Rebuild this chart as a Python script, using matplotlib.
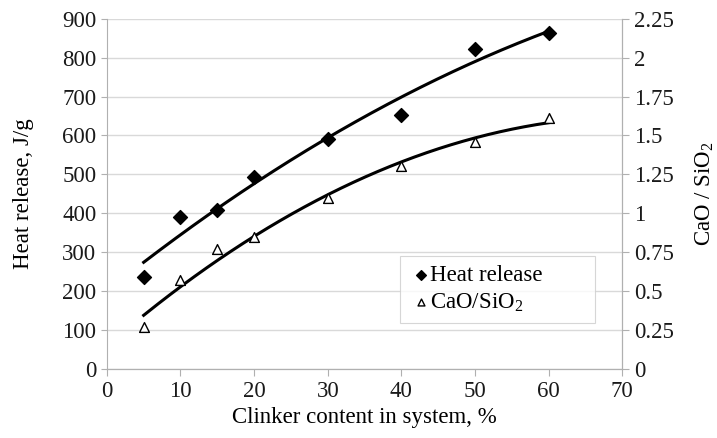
import numpy as np
import matplotlib
matplotlib.use("Agg")
import matplotlib.pyplot as plt

plt.rcParams['font.family'] = ['Liberation Serif', 'DejaVu Serif']
plt.rcParams['mathtext.fontset'] = 'custom'
plt.rcParams['mathtext.rm'] = 'Liberation Serif'
plt.rcParams['mathtext.it'] = 'Liberation Serif:italic'
plt.rcParams['mathtext.bf'] = 'Liberation Serif:bold'
plt.rcParams['mathtext.default'] = 'regular'

clinker = [5, 10, 15, 20, 30, 40, 50, 60]
heat_release = [236, 390, 408, 493, 591, 653, 823, 864]
cao_sio2 = [0.27, 0.57, 0.77, 0.85, 1.10, 1.305, 1.46, 1.61]

x_ticks = [0, 10, 20, 30, 40, 50, 60, 70]
y_left_ticks = [0, 100, 200, 300, 400, 500, 600, 700, 800, 900]
y_right_ticks = [0, 0.25, 0.5, 0.75, 1, 1.25, 1.5, 1.75, 2, 2.25]
y_right_labels = ['0', '0.25', '0.5', '0.75', '1', '1.25', '1.5', '1.75', '2', '2.25']

fig = plt.figure(figsize=(7.17, 4.38), dpi=100)
ax = fig.add_axes([0.149, 0.158, 0.719, 0.799])
ax2 = ax.twinx()

gray = '#b0b0b0'
ax.set_xlim(0, 70)
ax.set_ylim(0, 900)
ax2.set_ylim(0, 2.25)
ax.set_yticks(y_left_ticks)
ax.set_xticks(x_ticks)
ax2.set_yticks(y_right_ticks)
ax2.set_yticklabels(y_right_labels)
ax.yaxis.grid(True, color='#d9d9d9', linewidth=1.0)
ax.set_axisbelow(True)

fs = 16.5
for a in (ax, ax2):
    a.spines['top'].set_visible(False)
    for s in ('left', 'right', 'bottom'):
        a.spines[s].set_color(gray)
        a.spines[s].set_linewidth(0.8)
    a.tick_params(axis='both', colors=gray, labelcolor='#1a1a1a', labelsize=fs, length=5, width=0.8)
ax.tick_params(axis='y', length=4)
ax2.spines['left'].set_visible(False)

xs = np.linspace(5, 60, 200)
p1 = np.polyfit(clinker, heat_release, 2)
p2 = np.polyfit(clinker, cao_sio2, 2)
ax.plot(xs, np.polyval(p1, xs), color='black', lw=2.2, zorder=3)
ax2.plot(xs, np.polyval(p2, xs), color='black', lw=2.2, zorder=3)

h1 = ax.scatter(clinker, heat_release, marker='D', s=50, color='black', zorder=4, label='Heat release')
h2 = ax2.scatter(clinker, cao_sio2, marker='^', s=50, facecolors='white', edgecolors='black', linewidths=1.0, zorder=4, label='CaO/SiO$_2$')

ax.set_xlabel('Clinker content in system, %', fontsize=fs, labelpad=4)
ax.set_ylabel('Heat release, J/g', fontsize=fs, labelpad=20)
ax2.set_ylabel('CaO / SiO$_2$', fontsize=fs, labelpad=14)

leg = ax2.legend(handles=[h1, h2], loc='lower left', bbox_to_anchor=(0.569, 0.131, 0.377, 0.19),
                 mode='expand', borderaxespad=0.0, fontsize=fs, frameon=True, fancybox=False,
                 handletextpad=-0.1, handlelength=1.0, borderpad=0.4, labelspacing=0.25,
                 markerscale=0.7)
leg.get_frame().set_edgecolor('#cccccc')
leg.get_frame().set_linewidth(0.8)

fig.savefig('out.png', dpi=100)
